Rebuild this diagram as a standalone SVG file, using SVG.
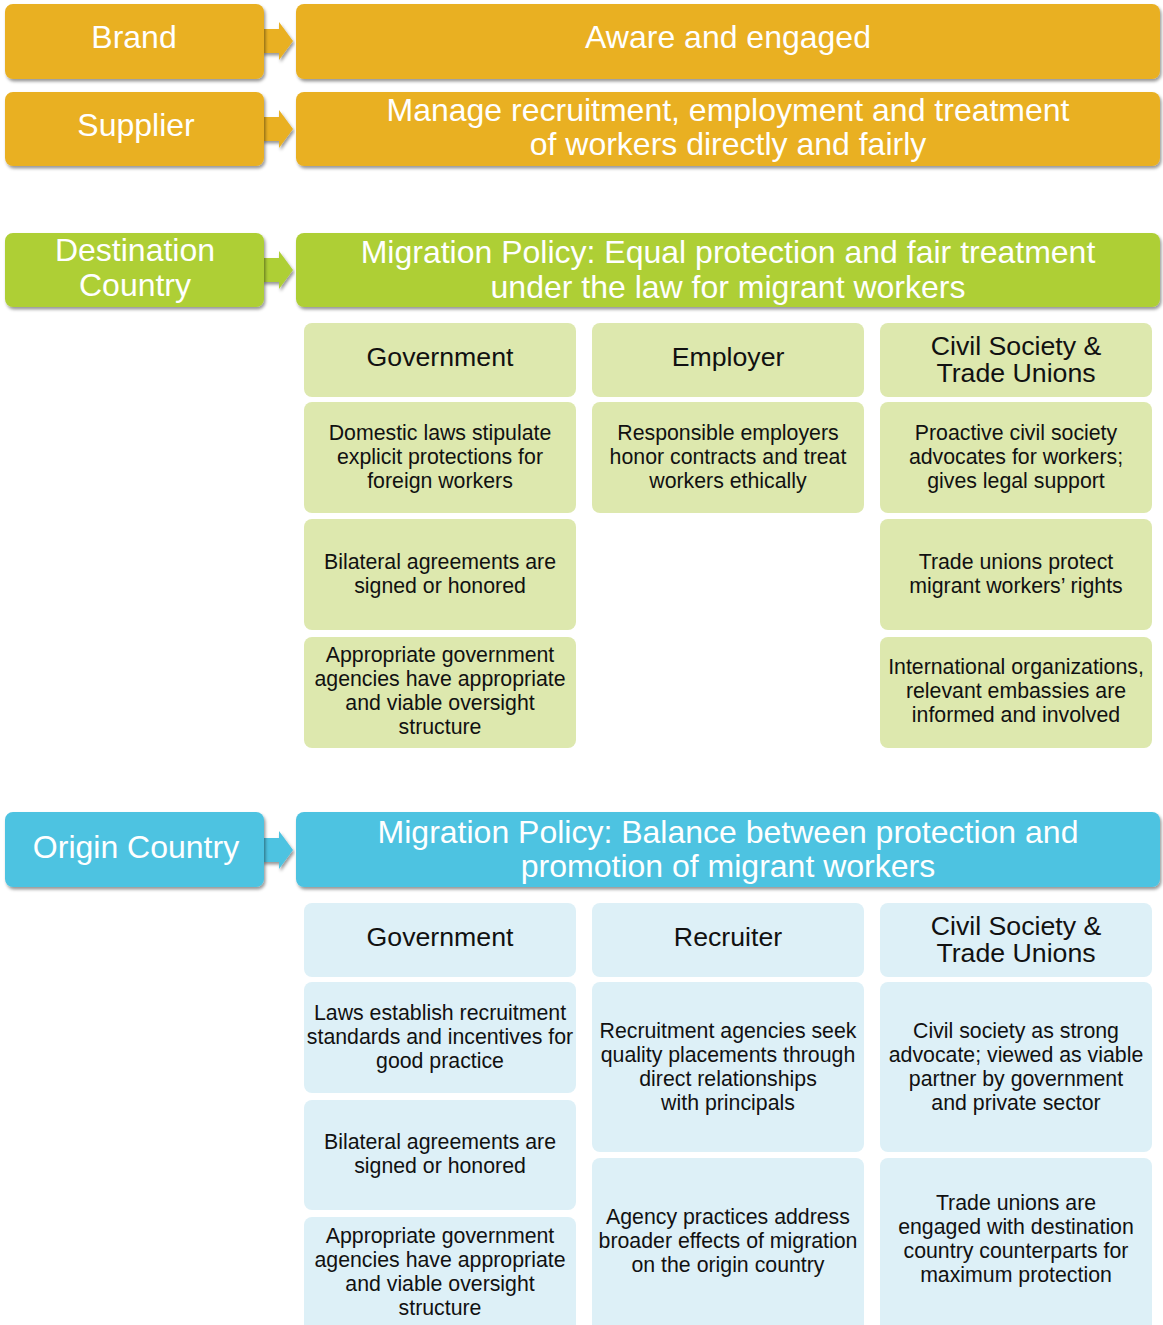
<svg xmlns="http://www.w3.org/2000/svg" width="1163" height="1325" viewBox="0 0 1163 1325">
<defs>
<filter id="sh" x="-5%" y="-20%" width="110%" height="150%">
<feDropShadow dx="1.5" dy="2.5" stdDeviation="1.8" flood-color="#000" flood-opacity="0.4"/>
</filter>
<style>
.gold{fill:#E9B022}
.green{fill:#AECF35}
.blue{fill:#4DC3E1}
.lg{fill:#DDE8AE}
.lb{fill:#DDF0F7}
.big{font-family:"Liberation Sans",Arial,sans-serif;font-size:32px;fill:#fff;text-anchor:middle}
.hd{font-family:"Liberation Sans",Arial,sans-serif;font-size:26.7px;fill:#111;text-anchor:middle}
.bd{font-family:"Liberation Sans",Arial,sans-serif;font-size:21.3px;fill:#111;text-anchor:middle}
</style>
</defs>
<rect width="1163" height="1325" fill="#fff"/>

<g id="connectors">
<polygon class="gold" filter="url(#sh)" points="262,29 279,29 279,22 293,41 279,60 279,53 262,53"/>
<polygon class="gold" filter="url(#sh)" points="262,117 279,117 279,110 293,129 279,148 279,141 262,141"/>
<polygon class="green" filter="url(#sh)" points="262,258 279,258 279,251 293,270 279,289 279,282 262,282"/>
<polygon class="blue" filter="url(#sh)" points="262,838 279,838 279,831 293,850 279,869 279,862 262,862"/>
</g>

<g id="brand"><rect class="gold" filter="url(#sh)" x="5" y="4" width="259" height="75" rx="8"/><text class="big" x="134" y="48">Brand</text></g>
<g id="brand-role"><rect class="gold" filter="url(#sh)" x="296" y="4" width="864" height="75" rx="8"/><text class="big" x="728" y="48">Aware and engaged</text></g>
<g id="supplier"><rect class="gold" filter="url(#sh)" x="5" y="92" width="259" height="74" rx="8"/><text class="big" x="136" y="136">Supplier</text></g>
<g id="supplier-role"><rect class="gold" filter="url(#sh)" x="296" y="92" width="864" height="74" rx="8"/><text class="big" x="728" y="121">Manage recruitment, employment and treatment</text><text class="big" x="728" y="155">of workers directly and fairly</text></g>

<g id="destination"><rect class="green" filter="url(#sh)" x="5" y="233" width="259" height="74" rx="8"/><text class="big" x="135" y="261">Destination</text><text class="big" x="135" y="296">Country</text></g>
<g id="destination-policy"><rect class="green" filter="url(#sh)" x="296" y="233" width="864" height="74" rx="8"/><text class="big" x="728" y="263">Migration Policy: Equal protection and fair treatment</text><text class="big" x="728" y="298">under the law for migrant workers</text></g>

<g id="d-gov-h"><rect class="lg" x="304" y="323" width="272" height="74" rx="8"/><text class="hd" x="440" y="366">Government</text></g>
<g id="d-emp-h"><rect class="lg" x="592" y="323" width="272" height="74" rx="8"/><text class="hd" x="728" y="366">Employer</text></g>
<g id="d-cs-h"><rect class="lg" x="880" y="323" width="272" height="74" rx="8"/><text class="hd" x="1016" y="355">Civil Society &amp;</text><text class="hd" x="1016" y="382">Trade Unions</text></g>

<g id="d-gov-1"><rect class="lg" x="304" y="402" width="272" height="111" rx="8"/><text class="bd" x="440" y="440">Domestic laws stipulate</text><text class="bd" x="440" y="464">explicit protections for</text><text class="bd" x="440" y="488">foreign workers</text></g>
<g id="d-emp-1"><rect class="lg" x="592" y="402" width="272" height="111" rx="8"/><text class="bd" x="728" y="440">Responsible employers</text><text class="bd" x="728" y="464">honor contracts and treat</text><text class="bd" x="728" y="488">workers ethically</text></g>
<g id="d-cs-1"><rect class="lg" x="880" y="402" width="272" height="111" rx="8"/><text class="bd" x="1016" y="440">Proactive civil society</text><text class="bd" x="1016" y="464">advocates for workers;</text><text class="bd" x="1016" y="488">gives legal support</text></g>

<g id="d-gov-2"><rect class="lg" x="304" y="519" width="272" height="111" rx="8"/><text class="bd" x="440" y="569">Bilateral agreements are</text><text class="bd" x="440" y="593">signed or honored</text></g>
<g id="d-cs-2"><rect class="lg" x="880" y="519" width="272" height="111" rx="8"/><text class="bd" x="1016" y="569">Trade unions protect</text><text class="bd" x="1016" y="593">migrant workers’ rights</text></g>

<g id="d-gov-3"><rect class="lg" x="304" y="637" width="272" height="111" rx="8"/><text class="bd" x="440" y="662">Appropriate government</text><text class="bd" x="440" y="686">agencies have appropriate</text><text class="bd" x="440" y="710">and viable oversight</text><text class="bd" x="440" y="734">structure</text></g>
<g id="d-cs-3"><rect class="lg" x="880" y="637" width="272" height="111" rx="8"/><text class="bd" x="1016" y="674">International organizations,</text><text class="bd" x="1016" y="698">relevant embassies are</text><text class="bd" x="1016" y="722">informed and involved</text></g>

<g id="origin"><rect class="blue" filter="url(#sh)" x="5" y="812" width="259" height="75" rx="8"/><text class="big" x="136" y="858">Origin Country</text></g>
<g id="origin-policy"><rect class="blue" filter="url(#sh)" x="296" y="812" width="864" height="75" rx="8"/><text class="big" x="728" y="843">Migration Policy: Balance between protection and</text><text class="big" x="728" y="877">promotion of migrant workers</text></g>

<g id="o-gov-h"><rect class="lb" x="304" y="903" width="272" height="74" rx="8"/><text class="hd" x="440" y="946">Government</text></g>
<g id="o-rec-h"><rect class="lb" x="592" y="903" width="272" height="74" rx="8"/><text class="hd" x="728" y="946">Recruiter</text></g>
<g id="o-cs-h"><rect class="lb" x="880" y="903" width="272" height="74" rx="8"/><text class="hd" x="1016" y="935">Civil Society &amp;</text><text class="hd" x="1016" y="962">Trade Unions</text></g>

<g id="o-gov-1"><rect class="lb" x="304" y="982" width="272" height="111" rx="8"/><text class="bd" x="440" y="1020">Laws establish recruitment</text><text class="bd" x="440" y="1044">standards and incentives for</text><text class="bd" x="440" y="1068">good practice</text></g>
<g id="o-rec-1"><rect class="lb" x="592" y="982" width="272" height="170" rx="8"/><text class="bd" x="728" y="1038">Recruitment agencies seek</text><text class="bd" x="728" y="1062">quality placements through</text><text class="bd" x="728" y="1086">direct relationships</text><text class="bd" x="728" y="1110">with principals</text></g>
<g id="o-cs-1"><rect class="lb" x="880" y="982" width="272" height="170" rx="8"/><text class="bd" x="1016" y="1038">Civil society as strong</text><text class="bd" x="1016" y="1062">advocate; viewed as viable</text><text class="bd" x="1016" y="1086">partner by government</text><text class="bd" x="1016" y="1110">and private sector</text></g>

<g id="o-gov-2"><rect class="lb" x="304" y="1100" width="272" height="110" rx="8"/><text class="bd" x="440" y="1149">Bilateral agreements are</text><text class="bd" x="440" y="1173">signed or honored</text></g>
<g id="o-gov-3"><rect class="lb" x="304" y="1217" width="272" height="120" rx="8"/><text class="bd" x="440" y="1243">Appropriate government</text><text class="bd" x="440" y="1267">agencies have appropriate</text><text class="bd" x="440" y="1291">and viable oversight</text><text class="bd" x="440" y="1315">structure</text></g>
<g id="o-rec-2"><rect class="lb" x="592" y="1158" width="272" height="180" rx="8"/><text class="bd" x="728" y="1224">Agency practices address</text><text class="bd" x="728" y="1248">broader effects of migration</text><text class="bd" x="728" y="1272">on the origin country</text></g>
<g id="o-cs-2"><rect class="lb" x="880" y="1158" width="272" height="180" rx="8"/><text class="bd" x="1016" y="1210">Trade unions are</text><text class="bd" x="1016" y="1234">engaged with destination</text><text class="bd" x="1016" y="1258">country counterparts for</text><text class="bd" x="1016" y="1282">maximum protection</text></g>
</svg>
